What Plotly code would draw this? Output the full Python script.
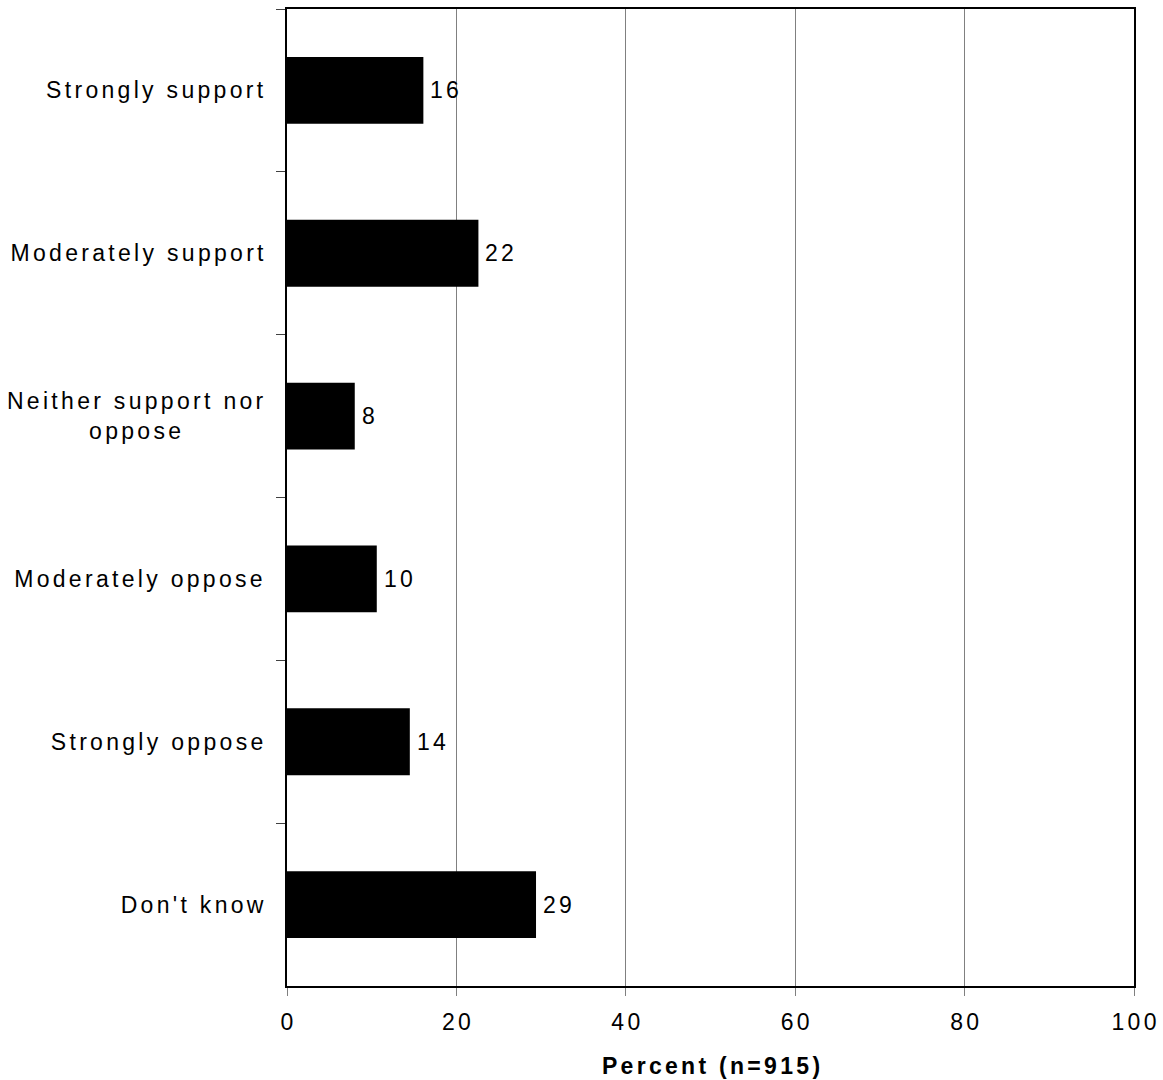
import plotly.graph_objects as go

categories = ["Strongly support", "Moderately support", "Neither support nor<br>oppose",
              "Moderately oppose", "Strongly oppose", "Don't know"]
values = [16.1, 22.6, 8.0, 10.6, 14.5, 29.4]
value_labels = ["16", "22", "8", "10", "14", "29"]
x_ticks = [0, 20, 40, 60, 80, 100]
x_title = "Percent (n=915)"

FONT = "Liberation Sans, Arial, sans-serif"
FS = 23

fig = go.Figure()
fig.add_trace(go.Bar(
    x=values, y=categories, orientation="h",
    marker=dict(color="black", line=dict(width=0)),
    width=0.41, hoverinfo="skip",
))

annotations = []
for c in categories:
    annotations.append(dict(
        x=0, xref="paper", y=c, yref="y", text=c, showarrow=False,
        xanchor="right", yanchor="middle", align="center", xshift=-22,
        font=dict(family=FONT, size=FS, color="black"),
    ))
for c, v, t in zip(categories, values, value_labels):
    annotations.append(dict(
        x=v, xref="x", y=c, yref="y", text=t, showarrow=False,
        xanchor="left", yanchor="middle", xshift=5,
        font=dict(family=FONT, size=FS, color="black"),
    ))
annotations.append(dict(
    x=0.5, xref="paper", y=0, yref="paper", text="<b>" + x_title + "</b>",
    showarrow=False, xanchor="center", yanchor="middle", yshift=-80,
    font=dict(family=FONT, size=FS, color="black"),
))

fig.update_layout(
    width=1163, height=1080,
    margin=dict(l=287, r=29, t=9, b=94, autoexpand=False),
    paper_bgcolor="white", plot_bgcolor="white",
    showlegend=False,
    font=dict(family=FONT, size=FS, color="black"),
    annotations=annotations,
    xaxis=dict(
        range=[0, 100], tickvals=x_ticks, ticktext=[str(v) for v in x_ticks],
        showgrid=True, gridcolor="#808080", gridwidth=1,
        showline=True, linecolor="black", linewidth=2, mirror=True,
        ticks="outside", ticklen=8, tickcolor="#808080", tickwidth=1,
        ticklabelstandoff=6, automargin=False,
        zeroline=False,
        tickfont=dict(family=FONT, size=FS, color="black"),
    ),
    yaxis=dict(
        categoryorder="array", categoryarray=categories,
        range=[5.5, -0.5], showticklabels=False, automargin=False,
        showgrid=False, zeroline=False,
        showline=True, linecolor="black", linewidth=2, mirror=True,
        ticks="outside", tickson="boundaries", ticklen=9,
        tickcolor="#404040", tickwidth=1,
    ),
)

post = """
document.body.style.margin = '0';
document.body.style.overflow = 'hidden';
var gd = document.getElementById('{plot_id}');
function spaceText(){
  var LS = 3.3;
  gd.querySelectorAll('text').forEach(function(t){
    if (t.dataset.ls) return;
    var ann = t.closest('.annotation');
    var idx = ann ? parseInt(ann.getAttribute('data-index')) : -1;
    var b0 = t.getBBox();
    t.style.letterSpacing = LS + 'px';
    t.dataset.ls = '1';
    var b1 = t.getBBox();
    var dx;
    if (idx >= 0 && idx < 6) { dx = (b0.x + b0.width) - (b1.x + b1.width) + LS; }
    else if (idx >= 6 && idx < 12) { dx = b0.x - b1.x; }
    else { dx = (b0.x + b0.width/2) - (b1.x + b1.width/2) + LS/2; }
    var tr = t.getAttribute('transform') || '';
    t.setAttribute('transform', tr + ' translate(' + dx + ',0)');
  });
}
spaceText();
"""

fig.write_html("out.html", post_script=post,
               config={"displayModeBar": False, "staticPlot": True})
